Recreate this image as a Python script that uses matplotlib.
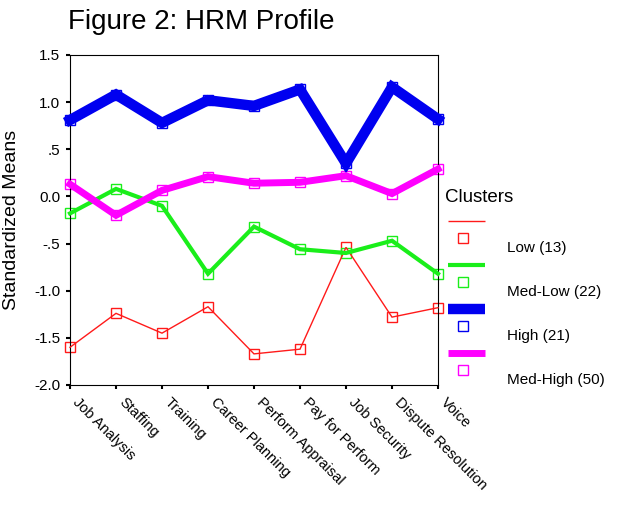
import matplotlib
matplotlib.use('Agg')
import matplotlib.pyplot as plt
from matplotlib.lines import Line2D

plt.rcParams['font.family'] = ['Liberation Sans', 'DejaVu Sans']

categories = ['Job Analysis', 'Staffing', 'Training', 'Career Planning',
              'Perform Appraisal', 'Pay for Perform', 'Job Security',
              'Dispute Resolution', 'Voice']
low = [-1.60, -1.24, -1.45, -1.17, -1.67, -1.62, -0.54, -1.28, -1.18]
med_low = [-0.18, 0.08, -0.10, -0.82, -0.32, -0.56, -0.60, -0.47, -0.82]
high = [0.81, 1.08, 0.78, 1.02, 0.96, 1.135, 0.35, 1.16, 0.82]
med_high = [0.13, -0.20, 0.064, 0.21, 0.14, 0.15, 0.22, 0.03, 0.29]

series = [
    ('Low (13)', low, '#ff1a1a', 1.0),
    ('Med-Low (22)', med_low, '#1aee1a', 3.0),
    ('High (21)', high, '#0000f0', 7.5),
    ('Med-High (50)', med_high, '#ff00ff', 5.0),
]
yticks = [1.5, 1.0, 0.5, 0.0, -0.5, -1.0, -1.5, -2.0]
ytick_labels = ['1.5', '1.0', '.5', '0.0', '-.5', '-1.0', '-1.5', '-2.0']

fig = plt.figure(figsize=(6.18, 5.19), dpi=100)
ax = fig.add_axes([70/618, 1-385/519, 368/618, 330/519])

x = range(len(categories))
for name, vals, col, lw in series:
    ax.plot(x, vals, linestyle='none', marker='s', markersize=7,
            markerfacecolor='none', markeredgecolor=col, markeredgewidth=1,
            zorder=2, clip_on=False)
    ax.plot(x, vals, color=col, lw=lw, zorder=3, clip_on=False,
            solid_joinstyle='miter')

ax.set_xlim(0, len(categories) - 1)
ax.set_ylim(-2.0, 1.5)
ax.set_yticks(yticks)
ax.set_yticklabels(ytick_labels, fontsize=11)
ax.set_xticks(list(x))
ax.set_xticklabels(categories, fontsize=10.5, rotation=-45, ha='left',
                   va='top', rotation_mode='default')
ax.tick_params(direction='out', length=3, width=1.5, color='black', pad=4)
for s in ax.spines.values():
    s.set_linewidth(0.8)
ax.set_ylabel('Standardized Means', fontsize=14, labelpad=10)

fig.text(68/618, 1-22/519, 'Figure 2: HRM Profile', fontsize=20,
         ha='left', va='center')

# legend
fig.text(445/618, 1-198/519, 'Clusters', fontsize=13.5, ha='left', va='center')
row0 = 221
for i, (name, vals, col, lw) in enumerate(series):
    yl = row0 + i * 44
    fig.add_artist(Line2D([448/618, 485/618], [1-yl/519, 1-yl/519],
                          color=col, lw=lw, solid_capstyle='butt',
                          transform=fig.transFigure))
    fig.add_artist(Line2D([463/618], [1-(yl+17)/519], marker='s',
                          markersize=7, markerfacecolor='none',
                          markeredgecolor=col, markeredgewidth=1,
                          transform=fig.transFigure))
    fig.text(507/618, 1-(yl+27)/519, name, fontsize=11, ha='left',
             va='center')

fig.savefig('out.png', dpi=100)
